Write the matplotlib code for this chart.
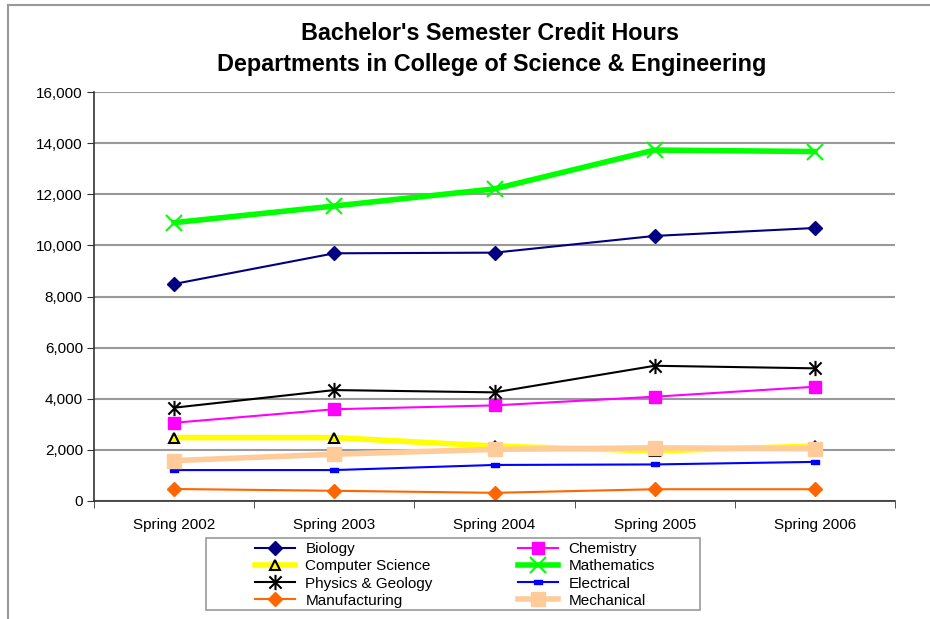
import matplotlib.pyplot as plt
from matplotlib.lines import Line2D
from matplotlib.patches import Rectangle
from matplotlib.path import Path
from matplotlib.ticker import FuncFormatter, FixedLocator

plt.rcParams['font.family'] = ['Liberation Sans', 'DejaVu Sans']

semesters = ["Spring 2002", "Spring 2003", "Spring 2004", "Spring 2005", "Spring 2006"]

biology = [8490, 9690, 9715, 10370, 10680]
chemistry = [3060, 3590, 3740, 4080, 4470]
computer_science = [2480, 2480, 2150, 1960, 2150]
mathematics = [10890, 11540, 12210, 13730, 13670]
physics_geology = [3650, 4340, 4250, 5290, 5190]
electrical = [1210, 1210, 1410, 1430, 1530]
manufacturing = [470, 400, 320, 460, 460]
mechanical = [1580, 1830, 2020, 2080, 2050]

# small flat bar used by Excel for the Electrical series
dash = [(-1, -0.45), (1, -0.45), (1, 0.45), (-1, 0.45), (-1, -0.45)]
# Excel "star": an X crossed by a vertical stroke
star = Path([(0, -1), (0, 1), (-0.8, -0.8), (0.8, 0.8), (-0.8, 0.8), (0.8, -0.8)],
            [Path.MOVETO, Path.LINETO] * 3)

series = [
    ("Biology", biology, dict(color="#000080", lw=1.5, marker="D", ms=7)),
    ("Chemistry", chemistry, dict(color="#FF00FF", lw=1.5, marker="s", ms=9)),
    ("Computer Science", computer_science,
     dict(color="#FFFF00", lw=4, marker="^", ms=7, mfc="#FFFF00", mec="black", mew=1.5)),
    ("Mathematics", mathematics, dict(color="#00FF00", lw=4, marker="x", ms=11, mew=1.5)),
    ("Physics & Geology", physics_geology, dict(color="black", lw=1.5, marker=star, ms=11, mew=1.5)),
    ("Electrical", electrical, dict(color="#0000FF", lw=1.5, marker=dash, ms=6)),
    ("Manufacturing", manufacturing, dict(color="#FF6600", lw=1.5, marker="D", ms=7)),
    ("Mechanical", mechanical, dict(color="#FFCC99", lw=4, marker="s", ms=10)),
]

fig = plt.figure(figsize=(9.3, 6.19), dpi=100)
ax = fig.add_axes([94 / 930, 1 - 501 / 619, (895 - 94) / 930, (501 - 92) / 619])

x = list(range(len(semesters)))
handles = {}
for name, vals, st in series:
    h, = ax.plot(x, vals, label=name, clip_on=False, **st)
    handles[name] = h

ax.set_xlim(-0.5, 4.5)
ax.set_ylim(0, 16000)
ax.set_yticks(range(0, 16001, 2000))
ax.yaxis.set_major_formatter(FuncFormatter(lambda v, p: f"{int(v):,}"))
ax.set_xticks(x)
ax.set_xticklabels(semesters)
ax.xaxis.set_minor_locator(FixedLocator([i - 0.5 for i in range(6)]))
ax.tick_params(axis="x", which="major", length=0, pad=12, labelsize=11)
ax.tick_params(axis="x", which="minor", length=5, color="#333333")
ax.tick_params(axis="y", length=5, color="#333333", labelsize=11, pad=3)

ax.yaxis.grid(True, color="#999999", lw=1.5)
ax.set_axisbelow(True)
for s in ["top", "right"]:
    ax.spines[s].set_visible(False)
for s in ["left", "bottom"]:
    ax.spines[s].set_color("#333333")
    ax.spines[s].set_linewidth(1.2)

fig.text(490 / 930, 1 - 33 / 619, "Bachelor's Semester Credit Hours",
         ha="center", va="center", fontsize=16.8, fontweight="bold")
fig.text(492 / 930, 1 - 64 / 619, "Departments in College of Science & Engineering",
         ha="center", va="center", fontsize=16.8, fontweight="bold")

# legend filled column by column, so reorder to read row-wise
order = ["Biology", "Computer Science", "Physics & Geology", "Manufacturing",
         "Chemistry", "Mathematics", "Electrical", "Mechanical"]
leg = fig.legend([handles[n] for n in order], order, ncol=2,
                 loc="center", bbox_to_anchor=(455 / 930, 1 - 575 / 619),
                 fontsize=11, frameon=False,
                 handlelength=2.6, handletextpad=0.7, columnspacing=5.6,
                 labelspacing=0.2, borderpad=0, borderaxespad=0)

# legend box and chart area border
fig.add_artist(Rectangle((206 / 930, 1 - 610 / 619), 494 / 930, 72 / 619,
                         transform=fig.transFigure, fill=False,
                         edgecolor="#999999", lw=1.2))
fig.add_artist(Line2D([8 / 930, 8 / 930], [0, 1 - 5 / 619], color="#999999", lw=1.5))
fig.add_artist(Line2D([8 / 930, 1], [1 - 5 / 619, 1 - 5 / 619], color="#999999", lw=1.5))

fig.savefig("out.png", dpi=100)
